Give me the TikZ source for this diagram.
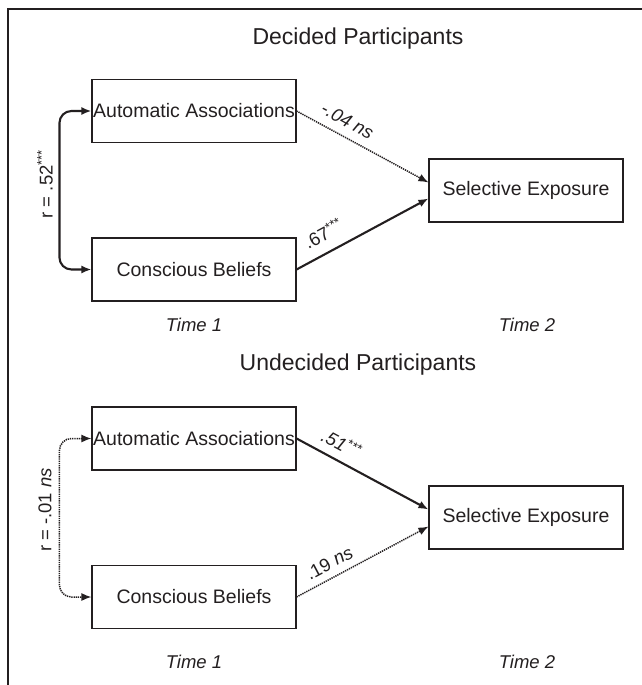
\documentclass[tikz,border=0pt]{standalone}
\usepackage{fontspec}
\setmainfont{Liberation Sans}
\usetikzlibrary{arrows.meta}
\definecolor{ink}{HTML}{231F20}

\begin{document}
\begin{tikzpicture}[x=1pt,y=-1pt,color=ink,>={Latex[length=10pt,width=8pt]},
    weak/.style={dash pattern=on 1.3pt off .9pt,line width=1.5pt},
    strong/.style={line width=2.1pt}]
  \useasboundingbox (0,0) rectangle (642,685);
  \draw[line width=1.3pt] (642,9) -- (8,9) -- (8,685);
  \begin{scope}[every node/.style={font=\fontsize{23}{27}\selectfont}]
  \node (dec) at (358,39) {Decided Participants};
  \node (undec) at (358,365) {Undecided Participants};
  \end{scope}
  \begin{scope}[every node/.style={draw,line width=1.1pt,inner sep=0pt,minimum height=63pt,
       minimum width=204pt,font=\fontsize{19.5}{23}\selectfont}]
  \node (aa1) at (194,111) {Automatic Associations};
  \node (cb1) at (194,269.5) {Conscious Beliefs};
  \node[minimum width=194pt] (se1) at (526,190.5) {Selective Exposure};
  \node (aa2) at (194,438.5) {Automatic Associations};
  \node (cb2) at (194,597) {Conscious Beliefs};
  \node[minimum width=194pt] (se2) at (526,517.5) {Selective Exposure};
  \end{scope}
  \begin{scope}[every node/.style={font=\fontsize{18.5}{22}\selectfont}]
  \node (tma) at (194,325) {\textit{Time 1}};
  \node (tmb) at (527,325) {\textit{Time 2}};
  \node (tmc) at (194,662) {\textit{Time 1}};
  \node (tmd) at (527,662) {\textit{Time 2}};
  \node[rotate=90] (r1) at (45,184) {r = .52\textsuperscript{***}};
  \node[rotate=90] (r2) at (45,510) {r = -.01 \textit{ns}};
  % paths into selective exposure
  \draw[->,weak] (aa1.east) --
       node[sloped,above=5pt,pos=.33] {\textit{-.04 ns}} ([yshift=8pt]se1.west);
  \draw[->,strong] (cb1.east) --
       node[sloped,above=7pt,pos=.27] {.67\textsuperscript{***}} ([yshift=-8pt]se1.west);
  \draw[->,strong] (aa2.east) --
       node[sloped,above=5pt,pos=.28] {\textit{.51\textsuperscript{***}}} ([yshift=8pt]se2.west);
  \draw[->,weak] (cb2.east) --
       node[sloped,above=4pt,pos=.3] {.19 \textit{ns}} ([yshift=-9pt]se2.west);
  \end{scope}
  % correlations
  \draw[<->,strong,rounded corners=12pt] (aa1.west) -- ++(-32,0) |- (cb1.west);
  \draw[<->,weak,rounded corners=12pt] (aa2.west) -- ++(-32,0) |- (cb2.west);
\end{tikzpicture}
\end{document}
